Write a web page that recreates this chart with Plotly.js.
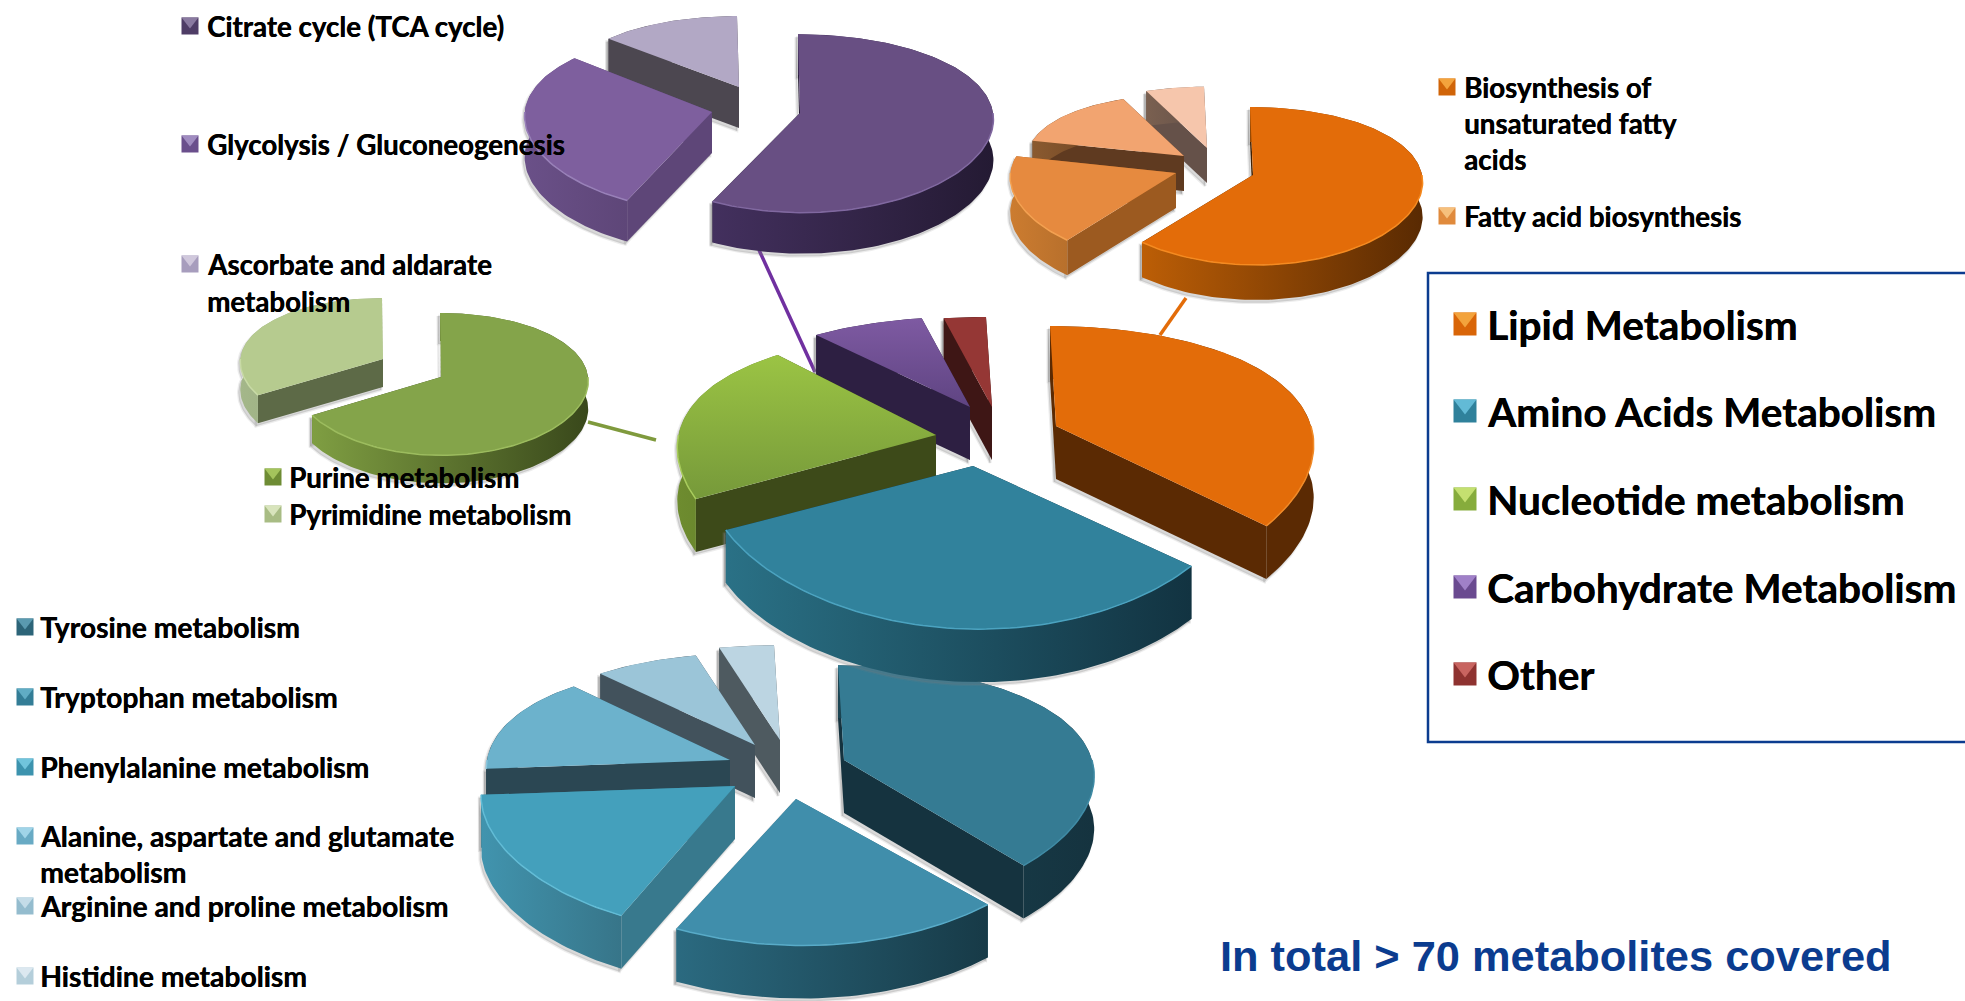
<!DOCTYPE html>
<html>
<head>
<meta charset="utf-8">
<title>Metabolite coverage by pathway</title>
<script src="https://cdn.plot.ly/plotly-3.0.1.min.js"></script>
<style>html,body{margin:0;padding:0;background:#fff}#chart{width:1965px;height:1001px}</style>
</head>
<body>
<div id="chart"></div>
<script>
// Share of covered metabolites, in percent, clockwise from twelve o'clock.
const classNames = ['Lipid Metabolism', 'Amino Acids Metabolism', 'Nucleotide metabolism', 'Carbohydrate Metabolism', 'Other'];
const classShares = [36.8, 30.6, 21.4, 8.2, 3];

const lipidNames = ['Biosynthesis of unsaturated fatty acids', 'Fatty acid biosynthesis', 'Further lipid pathway A', 'Further lipid pathway B'];
const lipidShares = [60.9, 17.7, 15, 6.4];

const aminoNames = ['Tyrosine metabolism', 'Tryptophan metabolism', 'Phenylalanine metabolism', 'Alanine, aspartate and glutamate metabolism', 'Arginine and proline metabolism', 'Histidine metabolism'];
const aminoShares = [38.9, 18, 16.9, 14.5, 7.8, 3.9];

const nucleotideNames = ['Purine metabolism', 'Pyrimidine metabolism'];
const nucleotideShares = [66.4, 33.6];

const carbNames = ['Citrate cycle (TCA cycle)', 'Glycolysis / Gluconeogenesis', 'Ascorbate and aldarate metabolism'];
const carbShares = [57.2, 29.2, 13.6];

// Drawing style of each pie: perspective strength g, radii, extrusion depth, lean,
// the exploded apex and x/y scale of each slice, and its face colours.
const pies = [
  { names: lipidNames, shares: lipidShares, rx: 169, ry: 77.5, g: 0.139, depth: 35, lean: 3,
    apex: [[1253,175],[1176,173],[1184,156],[1207,148]],
    sx: [1, 0.98, 0.93, 0.93], sy: [1, 1, 0.9, 0.9],
    top: [['#E36C09'],['#E68A3F'],['#F2A470'],['#F6C6AC']],
    wall: ['#3F1F02','#9C5A20','#5F3A20','#655149'],
    rim: [['#BC5E06','#592A02'],['#CC7C30','#B8702C'],['#8a5a30','#6a4020'],['#7a6050','#655149']],
    edge: ['#F58A20','#F3A050','#F8BC90','#FAD8C4'] },
  { names: aminoNames, shares: aminoShares, rx: 248, ry: 115, g: 0.215, depth: 53, lean: 6,
    apex: [[844,760],[796,799],[735,786],[730,760],[755,745],[780,740]],
    sx: [1, 1.07, 1.02, 0.98, 0.97, 1], sy: [1, 1, 1, 1, 0.97, 1],
    top: [['#357B93'],['#408EAB'],['#44A0BC'],['#6CB2CC'],['#9BC5D8'],['#BCD5E2']],
    wall: ['#15333F','#2B6A80','#38798D','#2B4753','#42525C','#4E5A60'],
    rim: [['#1A4452','#15333F'],['#2B6A80','#173A47'],['#4194AE','#377589'],['#2B4753','#2B4753'],['#42525C','#42525C'],['#4E5A60','#4E5A60']],
    edge: ['#3F8BA5','#58ABC8','#62BCD6','#8CC6DC','#B4D6E4','#CCE0EA'] },
  { names: nucleotideNames, shares: nucleotideShares, rx: 147, ry: 70.5, g: 0.1, depth: 28, lean: 1,
    apex: [[441,377],[383,359]],
    sx: [1, 0.97], sy: [1, 0.95],
    top: [['#84A44A'],['#B6CB8F']],
    wall: ['#39481B','#5D6A47'],
    rim: [['#7F9E42','#39481B'],['#A4B78A','#8c9e72']],
    edge: ['#9CBC5E','#C8DAA6'] },
  { names: carbNames, shares: carbShares, rx: 193, ry: 88, g: 0.117, depth: 41, lean: 2,
    apex: [[800,113],[712,112],[739,87]],
    sx: [1, 0.97, 0.92], sy: [1, 1, 0.9],
    top: [['#684F83'],['#7E5F9E'],['#B2A8C5']],
    wall: ['#241A33','#5E4678','#4C4750'],
    rim: [['#43305E','#241A33'],['#6A5088','#5E4678'],['#4C4750','#4C4750']],
    edge: ['#8068A0','#9880B8','#C4BCD4'] },
  { names: classNames, shares: classShares, rx: 250, ry: 124, g: 0.24, depth: 53, lean: 6,
    apex: [[1056,426],[973,466],[936,435],[970,407],[992,407]],
    sx: [1.02, 1.06, 1.03, 1, 1], sy: [1, 1, 1, 0.9, 0.9],
    top: [['#E36C09'],['#31829C'],['#76993A','#9BC444'],['#5F4482','#7E5AA2'],['#953735']],
    wall: ['#5B2A03','#123341','#3D4A19','#2D1F42','#3E1615'],
    rim: [['#5B2A03','#5B2A03'],['#2A7186','#123341'],['#6E8C2F','#5F7A28'],['#2D1F42','#2D1F42'],['#3E1615','#3E1615']],
    edge: ['#F08A28','#4BA3C0','#A8CC5C','#9070B0','#A84A48'] }
];

// Legend rows: text, left edge of the text, vertical centre, marker centre, marker colours.
const upperLabels = [
  ['Citrate cycle (TCA cycle)', 205, 26, 190, '#4F3D66', '#8A7AA0'],
  ['Glycolysis / Gluconeogenesis', 205, 144, 190, '#6A4F8C', '#A08CC0'],
  ['Ascorbate and aldarate', 205, 264, 190, '#A79DBD', '#D0C8DC'],
  ['metabolism', 205, 301, null],
  ['Biosynthesis of', 1462, 87, 1447, '#D06408', '#F3A33C'],
  ['unsaturated fatty', 1462, 123, null],
  ['acids', 1462, 159, null],
  ['Fatty acid biosynthesis', 1462, 216, 1447, '#E08A3C', '#F6C07C'],
  ['Purine metabolism', 287, 477, 273, '#6E8C34', '#A4C45C'],
  ['Pyrimidine metabolism', 287, 514, 273, '#A8BC84', '#D8E4BC']
];
const aminoLabels = [
  ['Tyrosine metabolism', 38, 627, 25, '#2C6478', '#5A9AB0'],
  ['Tryptophan metabolism', 38, 697, 25, '#337D96', '#60ACC4'],
  ['Phenylalanine metabolism', 38, 767, 25, '#3C93AE', '#70C4DC'],
  ['Alanine, aspartate and glutamate', 38, 836, 25, '#68AAC4', '#A0D4E8'],
  ['metabolism', 38, 872, null],
  ['Arginine and proline metabolism', 38, 906, 25, '#94BCCE', '#C4DCE8'],
  ['Histidine metabolism', 38, 976, 25, '#B4CEDA', '#DCE8F0']
];
const boxLabels = [
  ['Lipid Metabolism', 1485, 324, 1465, '#D96508', '#F3A33C'],
  ['Amino Acids Metabolism', 1485, 411, 1465, '#2F819B', '#62BAD6'],
  ['Nucleotide metabolism', 1485, 499, 1465, '#86AC3C', '#C4E070'],
  ['Carbohydrate Metabolism', 1485, 587, 1465, '#6A4A90', '#A080C8'],
  ['Other', 1485, 674, 1465, '#8E3230', '#C86460']
];
const leaders = [
  [1160, 335, 1186, 298, '#E36C09'],
  [759, 250, 815, 372, '#7030A0'],
  [588, 422, 656, 440, '#7F9A3D']
];

const STEP = 1.5;
const WIDEN = 0.5; // how much of the perspective growth also applies sideways
const rad = d => d * Math.PI / 180;

// Projects a point on the rim of a slice (clockwise angle from the top) to the plane.
function rimPoint(pie, i, deg) {
  const apex = pie.apex[i];
  const u = Math.sin(rad(deg)), v = -Math.cos(rad(deg));
  const s = 1 / (1 - pie.g * v);
  return [
    apex[0] + pie.rx * pie.sx[i] * u * (1 + WIDEN * (s - 1)) + pie.lean * v,
    apex[1] + pie.ry * pie.sy[i] * v * s
  ];
}
function arc(pie, i, a0, a1) {
  const pts = [];
  const n = Math.max(2, Math.ceil((a1 - a0) / STEP));
  for (let k = 0; k <= n; k++) pts.push(rimPoint(pie, i, a0 + (a1 - a0) * k / n));
  return pts;
}
function poly(pts, fill, gradient) {
  const t = {
    type: 'scatter', mode: 'lines', hoverinfo: 'skip', showlegend: false,
    x: pts.map(p => p[0]).concat(pts[0][0]), y: pts.map(p => p[1]).concat(pts[0][1]),
    fill: 'toself', line: { width: 0, color: 'rgba(0,0,0,0)' }, fillcolor: fill
  };
  if (gradient) t.fillgradient = gradient;
  return t;
}
const down = (pts, d, dx) => pts.map(p => [p[0] + (dx || 0), p[1] + d]);

const traces = [];
function addSlice(pie, i, a0, a1) {
  const apex = pie.apex[i], d = pie.depth;
  const rimArc = arc(pie, i, a0, a1);
  const first = rimArc[0], last = rimArc[rimArc.length - 1];
  const startWall = [apex, first, down([first], d)[0], down([apex], d)[0]];
  const endWall = [apex, last, down([last], d)[0], down([apex], d)[0]];
  const rimFace = rimArc.concat(down(rimArc, d).reverse());

  // soft contact shadow around the extruded faces
  [startWall, endWall, rimFace].forEach(f => {
    const sh = poly(down(f, 3, -2), 'rgba(120,120,120,0.28)');
    sh.line = { width: 2.5, color: 'rgba(130,130,130,0.14)' };
    traces.push(sh);
  });
  // farther wall first, so the nearer one paints over it
  const walls = first[1] < last[1] ? [startWall, endWall] : [endWall, startWall];
  walls.forEach(w => traces.push(poly(w, pie.wall[i])));
  traces.push(poly(rimFace, pie.rim[i][0], {
    type: 'horizontal', colorscale: [[0, pie.rim[i][0]], [1, pie.rim[i][1]]]
  }));

  const topPts = [apex].concat(rimArc);
  const top = pie.top[i];
  traces.push(poly(topPts, top[0], top.length > 1
    ? { type: 'vertical', colorscale: [[0, top[0]], [1, top[1]]] } : null));

  // bright bevel along the part of the rim that faces the viewer
  const lo = Math.max(a0, 90), hi = Math.min(a1, 270);
  if (hi > lo) {
    const e = arc(pie, i, lo, hi);
    traces.push({
      type: 'scatter', mode: 'lines', hoverinfo: 'skip', showlegend: false,
      x: e.map(p => p[0]), y: e.map(p => p[1]),
      line: { width: 1.5, color: pie.edge[i] }
    });
  }
}

pies.forEach(pie => {
  const total = pie.shares.reduce((a, b) => a + b, 0);
  const spans = [];
  let run = 0;
  pie.shares.forEach(v => { spans.push([run, run + v / total * 360]); run += v / total * 360; });
  // slices nearest twelve o'clock on the left sit furthest back
  const order = pie === pies[4] ? [4, 3, 2, 0, 1]
    : pie === pies[1] ? [5, 4, 3, 2, 0, 1]
    : spans.map((_, i) => i).reverse();
  order.forEach(i => addSlice(pie, i, spans[i][0], spans[i][1]));
});

const FONT = 'Lato, Carlito, Calibri, sans-serif';
const annotations = [];
function addLabels(rows, size, marker) {
  rows.forEach(r => {
    annotations.push({
      xref: 'x', yref: 'y', x: r[1], y: r[2], text: r[0], showarrow: false,
      xanchor: 'left', yanchor: 'middle',
      font: { family: FONT, size: size, color: '#000', weight: 700, shadow: '0.4px 0 0 #000' }
    });
    if (r[3] !== null) {
      // bevelled key: a base square with a lighter wedge on its upper half
      traces.push({
        type: 'scatter', mode: 'markers', hoverinfo: 'skip', showlegend: false,
        x: [r[3]], y: [r[2]],
        marker: { symbol: 'square', size: marker, color: r[4], line: { width: 0 } }
      });
      traces.push({
        type: 'scatter', mode: 'markers', hoverinfo: 'skip', showlegend: false,
        x: [r[3]], y: [r[2] - marker * 0.285],
        marker: { symbol: 'triangle-down', size: marker * 0.866, color: r[5], line: { width: 0 } }
      });
    }
  });
}
addLabels(upperLabels, 27.7, 17);
addLabels(aminoLabels, 28.3, 17);
addLabels(boxLabels, 40.5, 23);

annotations.push({
  xref: 'x', yref: 'y', x: 1218, y: 956, text: 'In total > 70 metabolites covered', showarrow: false,
  xanchor: 'left', yanchor: 'middle',
  font: { family: 'Liberation Sans, Arial, sans-serif', size: 43.4, color: '#0B3C8F', weight: 700 }
});

const shapes = leaders.map(l => ({
  type: 'line', layer: 'below', xref: 'x', yref: 'y', x0: l[0], y0: l[1], x1: l[2], y1: l[3],
  line: { color: l[4], width: 3.5 }
}));
shapes.push({
  type: 'rect', layer: 'above', xref: 'x', yref: 'y', x0: 1428, y0: 273, x1: 1985, y1: 742,
  line: { color: '#0B3C8F', width: 2.5 }, fillcolor: 'rgba(0,0,0,0)'
});

const hidden = { visible: false, fixedrange: true };
Plotly.newPlot('chart', traces, {
  width: 1965, height: 1001, showlegend: false,
  margin: { l: 0, r: 0, t: 0, b: 0 },
  paper_bgcolor: '#fff', plot_bgcolor: '#fff',
  xaxis: Object.assign({ range: [0, 1965] }, hidden),
  yaxis: Object.assign({ range: [1001, 0] }, hidden),
  annotations: annotations, shapes: shapes
}, { displayModeBar: false, staticPlot: true });
</script>
</body>
</html>
